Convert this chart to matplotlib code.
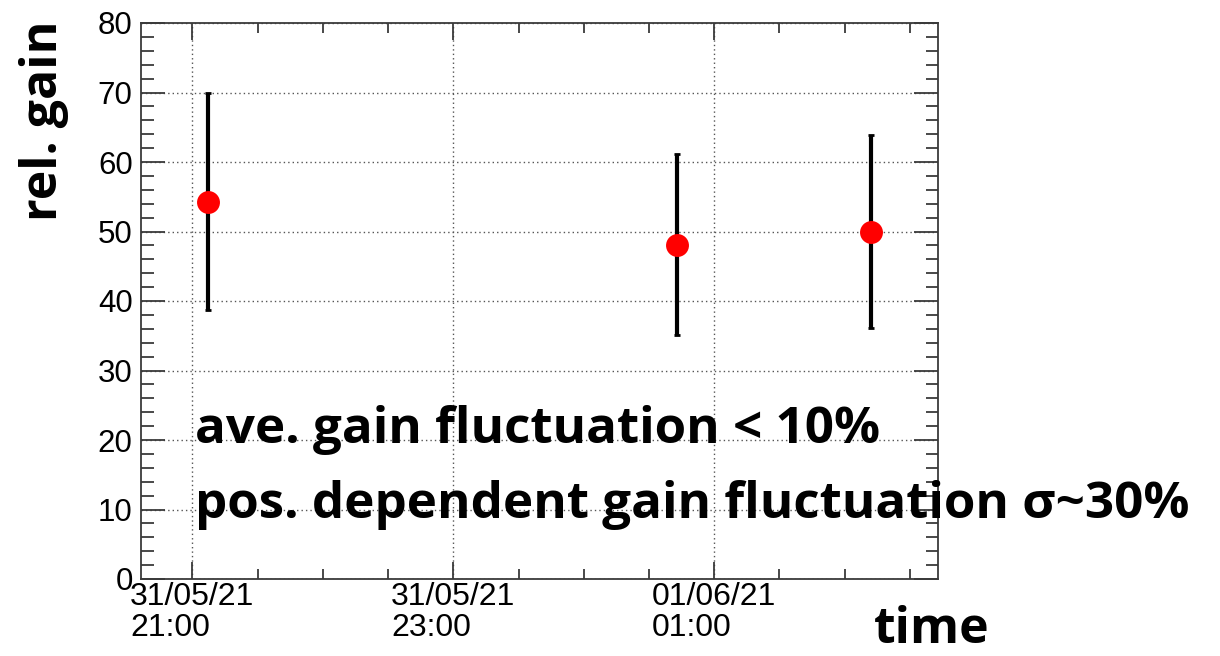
import matplotlib
matplotlib.use("Agg")
import matplotlib.pyplot as plt
import matplotlib.dates as mdates
from matplotlib.ticker import MultipleLocator
import pandas as pd

# ---- data ----
times = ["2021-05-31 21:07", "2021-06-01 00:43", "2021-06-01 02:12"]
gain = [54.3, 48.1, 50.0]
gain_err = [15.6, 13.0, 13.9]
x_range = ["2021-05-31 20:36:24", "2021-06-01 02:42:54"]
y_range = [0, 80]
ann_lines = ["ave. gain fluctuation < 10%", "pos. dependent gain fluctuation σ~30%"]

W, H = 1220, 656
fig = plt.figure(figsize=(W / 100, H / 100), dpi=100)
ax = fig.add_axes([141 / W, 1 - 579 / H, (938 - 141) / W, (579 - 23) / H])

t = mdates.date2num(pd.to_datetime(times))
ax.errorbar(t, gain, yerr=gain_err, fmt="none", ecolor="black", elinewidth=3.0,
            capsize=2, capthick=2, zorder=3)
ax.plot(t, gain, "o", color="red", markersize=16.5, markeredgewidth=0, zorder=4)

xl = mdates.date2num(pd.to_datetime(x_range))
ax.set_xlim(xl[0], xl[1])
ax.set_ylim(*y_range)

ax.xaxis.set_major_locator(mdates.HourLocator(byhour=[1, 21, 23]))
ax.xaxis.set_minor_locator(mdates.MinuteLocator(byminute=[0, 30]))
ax.xaxis.set_major_formatter(mdates.DateFormatter("%d/%m/%y\n%H:%M"))
ax.yaxis.set_major_locator(MultipleLocator(10))
ax.yaxis.set_minor_locator(MultipleLocator(2))

spine_c = "#3a3a3a"
for s in ax.spines.values():
    s.set_color(spine_c)
    s.set_linewidth(1.3)

ax.tick_params(axis="both", which="both", direction="in", top=True, right=True,
               color=spine_c, width=1.3)
ax.tick_params(axis="y", which="major", length=17, pad=6)
ax.tick_params(axis="y", which="minor", length=9)
ax.tick_params(axis="x", which="major", length=12, pad=2)
ax.tick_params(axis="x", which="minor", length=7)

for lab in ax.get_yticklabels():
    lab.set_fontfamily("Liberation Sans")
    lab.set_fontsize(22.5)
for lab in ax.get_xticklabels():
    lab.set_fontfamily("Liberation Sans")
    lab.set_fontsize(23)
    lab.set_multialignment("left")
    lab.set_linespacing(1.05)

ax.grid(True, which="major", linestyle=(0, (1, 2.2)), color="#555555", linewidth=1.0)
ax.set_axisbelow(True)

# axis titles
fig.text(44 / W, 1 - 121 / H, "rel. gain", rotation=90, ha="center", va="center",
         fontfamily="Open Sans", fontweight="bold", fontsize=36)
fig.text(932 / W, 1 - 643 / H, "time", ha="center", va="baseline",
         fontfamily="Open Sans", fontweight="bold", fontsize=36)

# annotation
fig.text(195 / W, 1 - 443 / H, ann_lines[0], ha="left", va="baseline",
         fontfamily="Open Sans", fontweight="bold", fontsize=36.8)
fig.text(195 / W, 1 - 518 / H, ann_lines[1], ha="left", va="baseline",
         fontfamily="Open Sans", fontweight="bold", fontsize=36.8)

fig.savefig("out.png", dpi=100)
